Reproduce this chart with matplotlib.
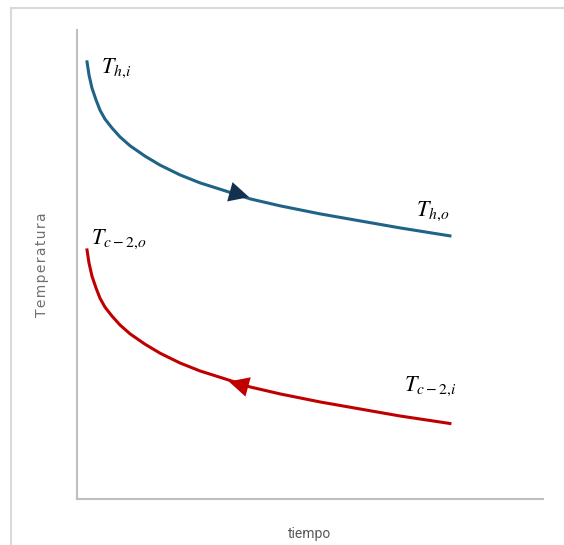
import matplotlib.pyplot as plt
from matplotlib.lines import Line2D

# Kurvenpunkte (geschätzt aus dem Bild, Achsen 0..100)
x_hot = [2.15, 2.58, 3.22, 4.08, 4.94, 6.01, 7.51, 9.23, 11.4, 14.6, 17.8,
         22.1, 26.4, 31.8, 37.1, 43.6, 52.1, 60.7, 69.3, 80.0]
y_hot = [93.2, 90.4, 87.6, 85.1, 82.9, 81.0, 79.1, 77.2, 75.3, 73.1, 71.2,
         69.1, 67.4, 65.7, 64.0, 62.5, 60.8, 59.3, 57.8, 56.1]
x_cold = x_hot
y_cold = [53.1, 50.3, 47.5, 45.0, 42.8, 40.9, 39.0, 37.1, 35.2, 33.0, 31.1,
          29.0, 27.3, 25.6, 23.9, 22.4, 20.7, 19.2, 17.7, 16.1]

plt.rcParams['mathtext.fontset'] = 'stix'

fig = plt.figure(figsize=(5.64, 5.45), dpi=100)
ax = fig.add_axes([0.1365, 0.0844, 0.8265, 0.8606])

ax.plot(x_hot, y_hot, color='#1f6387', lw=2.2, solid_joinstyle='round')
ax.plot(x_cold, y_cold, color='#c00000', lw=2.2, solid_joinstyle='round')

# Pfeilspitzen
ax.annotate('', xy=(37.5, 64.2), xytext=(31.0, 66.0),
            arrowprops=dict(arrowstyle='-|>', mutation_scale=36, color='#14304f', lw=0))
ax.annotate('', xy=(32.0, 25.2), xytext=(38.5, 23.4),
            arrowprops=dict(arrowstyle='-|>', mutation_scale=36, color='#c00000', lw=0))

ax.text(8.4, 91.9, r'$T_{h{,}i}$', fontsize=16, ha='center', va='center')
ax.text(76.2, 61.4, r'$T_{h{,}o}$', fontsize=16, ha='center', va='center')
ax.text(8.9, 55.4, r'$T_{c-2{,}o}$', fontsize=16, ha='center', va='center')
ax.text(75.8, 24.1, r'$T_{c-2{,}i}$', fontsize=16, ha='center', va='center')

ax.set_xlim(0, 100)
ax.set_ylim(0, 100)
ax.set_xticks([])
ax.set_yticks([])
for s in ['top', 'right']:
    ax.spines[s].set_visible(False)
for s in ['left', 'bottom']:
    ax.spines[s].set_color('#bfbfbf')
    ax.spines[s].set_linewidth(1.5)

ax.set_xlabel('tiempo', color='#595959', fontsize=10, labelpad=20, family='Roboto')
ax.set_ylabel('T e m p e r a t u r a'.replace(' ', '\u200a'), color='#6f6f6f',
              fontsize=10, labelpad=20, family='DejaVu Sans')

# Rahmen um das Bild
fig.add_artist(Line2D([11 / 564, 1], [1 - 8 / 545, 1 - 8 / 545], color='#d9d9d9', lw=1.5))
fig.add_artist(Line2D([11 / 564, 11 / 564], [0, 1 - 8 / 545], color='#d9d9d9', lw=1.5))

fig.savefig('out.png', dpi=100)
